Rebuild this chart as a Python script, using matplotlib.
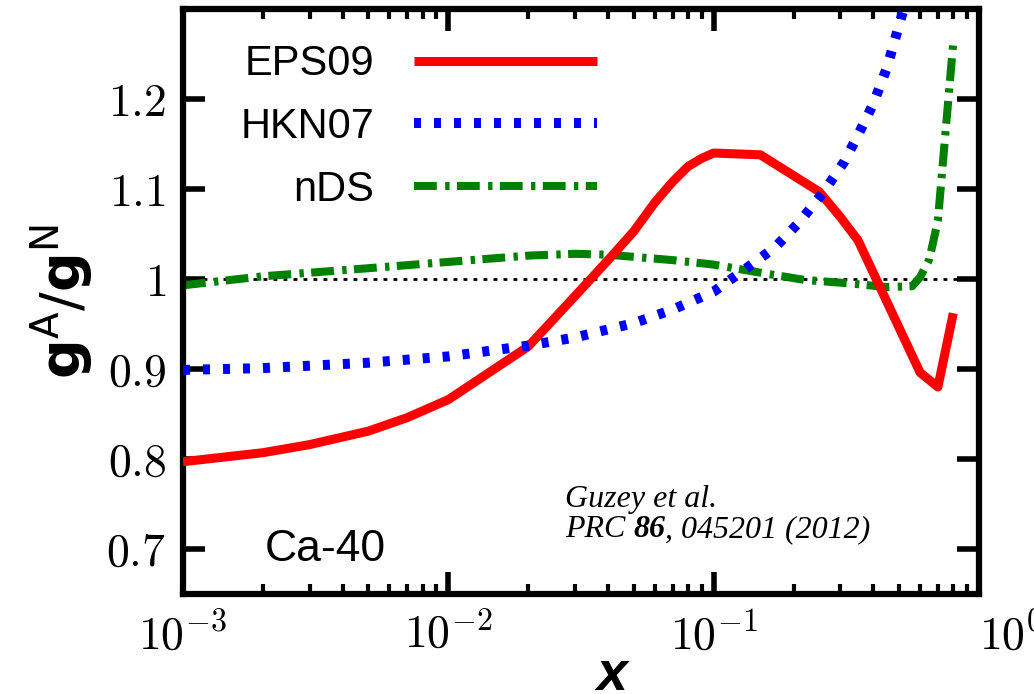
import matplotlib
matplotlib.use("Agg")
import matplotlib.pyplot as plt
import numpy as np

plt.rcParams["font.family"] = ["Liberation Sans", "DejaVu Sans"]
plt.rcParams["mathtext.fontset"] = "cm"

# nuclear gluon ratio g^A/g^N for Ca-40 vs x
eps_x = [0.001, 0.002, 0.003, 0.005, 0.007, 0.01, 0.02, 0.03, 0.04, 0.05, 0.06,
         0.07, 0.08, 0.09, 0.1, 0.15, 0.25, 0.3, 0.35, 0.6, 0.7, 0.8]
eps_y = [0.797, 0.807, 0.816, 0.831, 0.846, 0.866, 0.925, 0.981, 1.021, 1.053, 1.085,
         1.108, 1.125, 1.134, 1.140, 1.138, 1.097, 1.069, 1.043, 0.896, 0.880, 0.962]

hkn_x = [0.001, 0.002, 0.005, 0.01, 0.02, 0.03, 0.04, 0.05, 0.07, 0.1, 0.13,
         0.17, 0.21, 0.26, 0.31, 0.35, 0.4, 0.45, 0.52, 0.6]
hkn_y = [0.899, 0.901, 0.907, 0.914, 0.926, 0.935, 0.944, 0.951, 0.966, 0.986, 1.01,
         1.035, 1.063, 1.097, 1.13, 1.16, 1.195, 1.235, 1.30, 1.37]

nds_x = [0.001, 0.002, 0.005, 0.01, 0.02, 0.03, 0.04, 0.07, 0.1, 0.15, 0.22,
         0.33, 0.45, 0.56, 0.6, 0.65, 0.7, 0.8]
nds_y = [0.993, 1.003, 1.012, 1.019, 1.026, 1.028, 1.027, 1.021, 1.016, 1.007, 0.999,
         0.995, 0.991, 0.992, 1.002, 1.022, 1.065, 1.263]

xticks = [1e-3, 1e-2, 1e-1, 1]
xticklabels = [r"$10^{-3}$", r"$10^{-2}$", r"$10^{-1}$", r"$10^{0}$"]
yticks = [0.7, 0.8, 0.9, 1.0, 1.1, 1.2]
yticklabels = [r"$0.7$", r"$0.8$", r"$0.9$", r"$1$", r"$1.1$", r"$1.2$"]

fig, ax = plt.subplots(figsize=(10.34, 6.94), dpi=100)
fig.subplots_adjust(left=0.177, right=0.9468, bottom=0.1441, top=0.987)

ax.axhline(1.0, color="black", lw=2, linestyle=(0, (1.4, 2.2)), zorder=1)
ax.plot(nds_x, nds_y, color="#008000", lw=5.8, linestyle=(0, (2.83, 1.04, 0.54, 0.92)),
        dash_capstyle="butt", label="nDS", zorder=2)
ax.plot(eps_x, eps_y, color="#ff0000", lw=6.5, solid_capstyle="butt", label="EPS09", zorder=3)
ax.plot(hkn_x, hkn_y, color="#0000ff", lw=7.2, linestyle=(0, (0.7, 1.3)),
        dash_capstyle="butt", label="HKN07", zorder=4)

ax.set_xscale("log")
ax.set_xlim(1e-3, 1)
ax.set_ylim(0.65, 1.30)
ax.set_xticks(xticks, xticklabels)
ax.set_yticks(yticks, yticklabels)
last = ax.xaxis.get_major_ticks()[-1]
last.label1.set_horizontalalignment("left")

ax.tick_params(which="both", direction="in", top=True, right=True, labelsize=33)
ax.tick_params(which="major", length=16, width=4, pad=12)
ax.tick_params(which="minor", length=7, width=3)
ax.tick_params(axis="x", which="major", pad=14)
for sp in ax.spines.values():
    sp.set_linewidth(4.5)

ax.set_ylabel(r"$\mathbf{g}^{\mathrm{A}}/\mathbf{g}^{\mathrm{N}}$", fontsize=40,
              math_fontfamily="dejavusans")
ax.yaxis.set_label_coords(-0.11, 0.5)
ax.set_xlabel("x", fontsize=40, fontweight="bold", fontstyle="italic")
ax.xaxis.set_label_coords(0.539, -0.096)

handles, labels = ax.get_legend_handles_labels()
order = [1, 2, 0]
ax.legend([handles[i] for i in order], [labels[i] for i in order],
          loc="upper right", bbox_to_anchor=(0.52, 0.94), bbox_transform=ax.transAxes,
          markerfirst=False, frameon=False, prop={"size": 30},
          handlelength=4.4, handletextpad=0.95, labelspacing=0.55,
          borderpad=0, borderaxespad=0)

ax.text(0.103, 0.0564, "Ca-40", transform=ax.transAxes, fontsize=32, va="baseline")

cite = dict(family="Liberation Serif", style="italic", size=23)
ax.text(0.480, 0.148, "Guzey et al.", transform=ax.transAxes, va="baseline", **cite)
t1 = ax.text(0.480, 0.0974, "PRC ", transform=ax.transAxes, va="baseline", **cite)
t2 = ax.annotate("86", xy=(1, 0), xycoords=t1, va="bottom", weight="bold", **cite)
ax.annotate(", 045201 (2012)", xy=(1, 0), xycoords=t2, va="bottom", **cite)

fig.savefig("out.png", dpi=100)
